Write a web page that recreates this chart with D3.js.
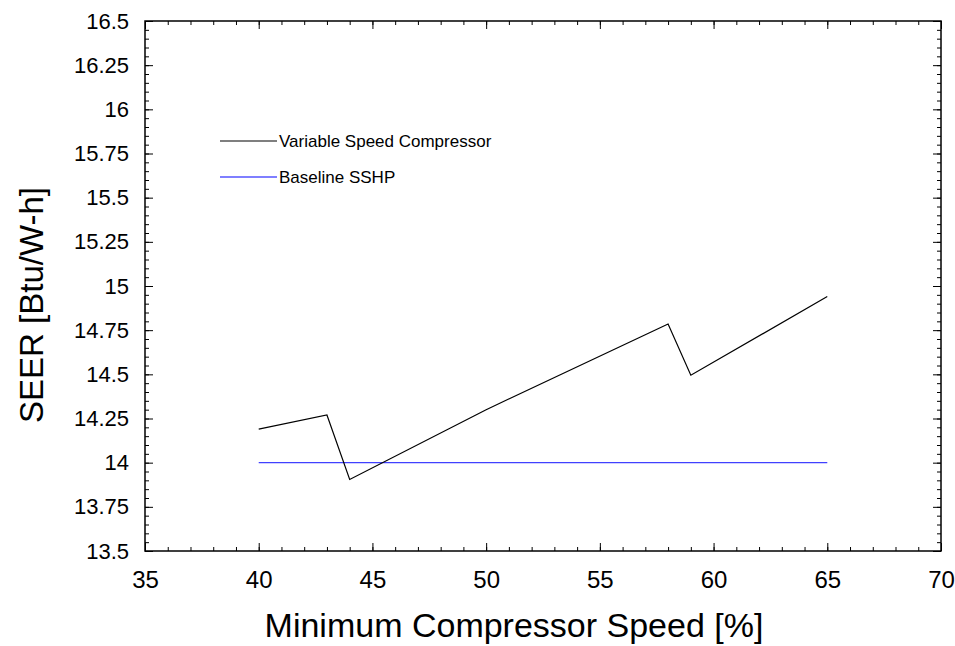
<!DOCTYPE html>
<html>
<head>
<meta charset="utf-8">
<script src="https://cdn.jsdelivr.net/npm/d3@7"></script>
<style>
    body { margin: 0; background: #fff; }
    text { font-family: "Liberation Sans", Arial, sans-serif; fill: #000; }
</style>
</head>
<body>
<div id="chart"></div>
<script>
// data
let speedVar = [40, 43, 44, 50, 58, 59, 65];
let seerVar = [14.19, 14.27, 13.905, 14.30, 14.785, 14.495, 14.94];
let speedBase = [40, 65];
let seerBase = [14.0, 14.0];

let xTicks = [35, 40, 45, 50, 55, 60, 65, 70];
let yTicks = [13.5, 13.75, 14, 14.25, 14.5, 14.75, 15, 15.25, 15.5, 15.75, 16, 16.25, 16.5];

let legendLabels = ["Variable Speed Compressor", "Baseline SSHP"];
let legendColors = ["#000000", "#0000ff"];

let width = 955, height = 646;
let margin = { top: 21, right: 14, bottom: 95, left: 145 };

let svg = d3.select("#chart").append("svg")
    .attr("width", width)
    .attr("height", height);

let x = d3.scaleLinear()
    .domain([35, 70])
    .range([margin.left, width - margin.right]);

let y = d3.scaleLinear()
    .domain([13.5, 16.5])
    .range([height - margin.bottom, margin.top]);

let xMinor = d3.range(35, 70.001, 1);
let yMinor = d3.range(0, 61).map(i => 13.5 + i * 0.05);

// ticks on all four sides, pointing inward
function tickLayer(axis, transform) {
    let g = svg.append("g").attr("transform", transform).call(axis);
    g.select(".domain").remove();
    g.selectAll(".tick line").attr("stroke", "#000");
    return g;
}

tickLayer(d3.axisBottom(x).tickValues(xMinor).tickSize(-4).tickFormat(""), "translate(0," + y(13.5) + ")");
tickLayer(d3.axisTop(x).tickValues(xMinor).tickSize(-4).tickFormat(""), "translate(0," + y(16.5) + ")");
tickLayer(d3.axisLeft(y).tickValues(yMinor).tickSize(-4).tickFormat(""), "translate(" + x(35) + ",0)");
tickLayer(d3.axisRight(y).tickValues(yMinor).tickSize(-4).tickFormat(""), "translate(" + x(70) + ",0)");

let xAxis = tickLayer(d3.axisBottom(x).tickValues(xTicks).tickSize(-8).tickPadding(20).tickFormat(d => d),
    "translate(0," + y(13.5) + ")");
xAxis.selectAll(".tick text")
    .attr("font-size", "24px")
    .attr("font-family", "Liberation Sans, Arial, sans-serif")
    .attr("fill", "#000");

let yAxis = tickLayer(d3.axisLeft(y).tickValues(yTicks).tickSize(-8).tickPadding(16).tickFormat(d => String(d)),
    "translate(" + x(35) + ",0)");
yAxis.selectAll(".tick text")
    .attr("font-size", "22px")
    .attr("font-family", "Liberation Sans, Arial, sans-serif")
    .attr("fill", "#000");

tickLayer(d3.axisTop(x).tickValues(xTicks).tickSize(-8).tickFormat(""), "translate(0," + y(16.5) + ")");
tickLayer(d3.axisRight(y).tickValues(yTicks).tickSize(-8).tickFormat(""), "translate(" + x(70) + ",0)");

// frame
svg.append("rect")
    .attr("x", x(35))
    .attr("y", y(16.5))
    .attr("width", x(70) - x(35))
    .attr("height", y(13.5) - y(16.5))
    .attr("fill", "none")
    .attr("stroke", "#000")
    .attr("stroke-width", 1.5);

let line = d3.line()
    .x(d => x(d[0]))
    .y(d => y(d[1]));

svg.append("path")
    .datum(d3.zip(speedBase, seerBase))
    .attr("fill", "none")
    .attr("stroke", legendColors[1])
    .attr("stroke-opacity", 0.75)
    .attr("stroke-width", 1.3)
    .attr("d", line);

svg.append("path")
    .datum(d3.zip(speedVar, seerVar))
    .attr("fill", "none")
    .attr("stroke", legendColors[0])
    .attr("stroke-width", 1.2)
    .attr("d", line);

// legend
let legend = svg.append("g").attr("class", "legend");
legendLabels.forEach(function (label, i) {
    let ly = 141 + i * 36;
    legend.append("line")
        .attr("x1", 220).attr("x2", 277)
        .attr("y1", ly).attr("y2", ly)
        .attr("stroke", legendColors[i])
        .attr("stroke-width", 1.2);
    legend.append("text")
        .attr("x", 279)
        .attr("y", ly + 6)
        .attr("font-size", "17px")
        .text(label);
});

// axis titles
svg.append("text")
    .attr("x", 514)
    .attr("y", 637)
    .attr("text-anchor", "middle")
    .attr("font-size", "34px")
    .text("Minimum Compressor Speed [%]");

svg.append("text")
    .attr("transform", "translate(43,305) rotate(-90)")
    .attr("text-anchor", "middle")
    .attr("font-size", "33px")
    .text("SEER [Btu/W-h]");
</script>
</body>
</html>
